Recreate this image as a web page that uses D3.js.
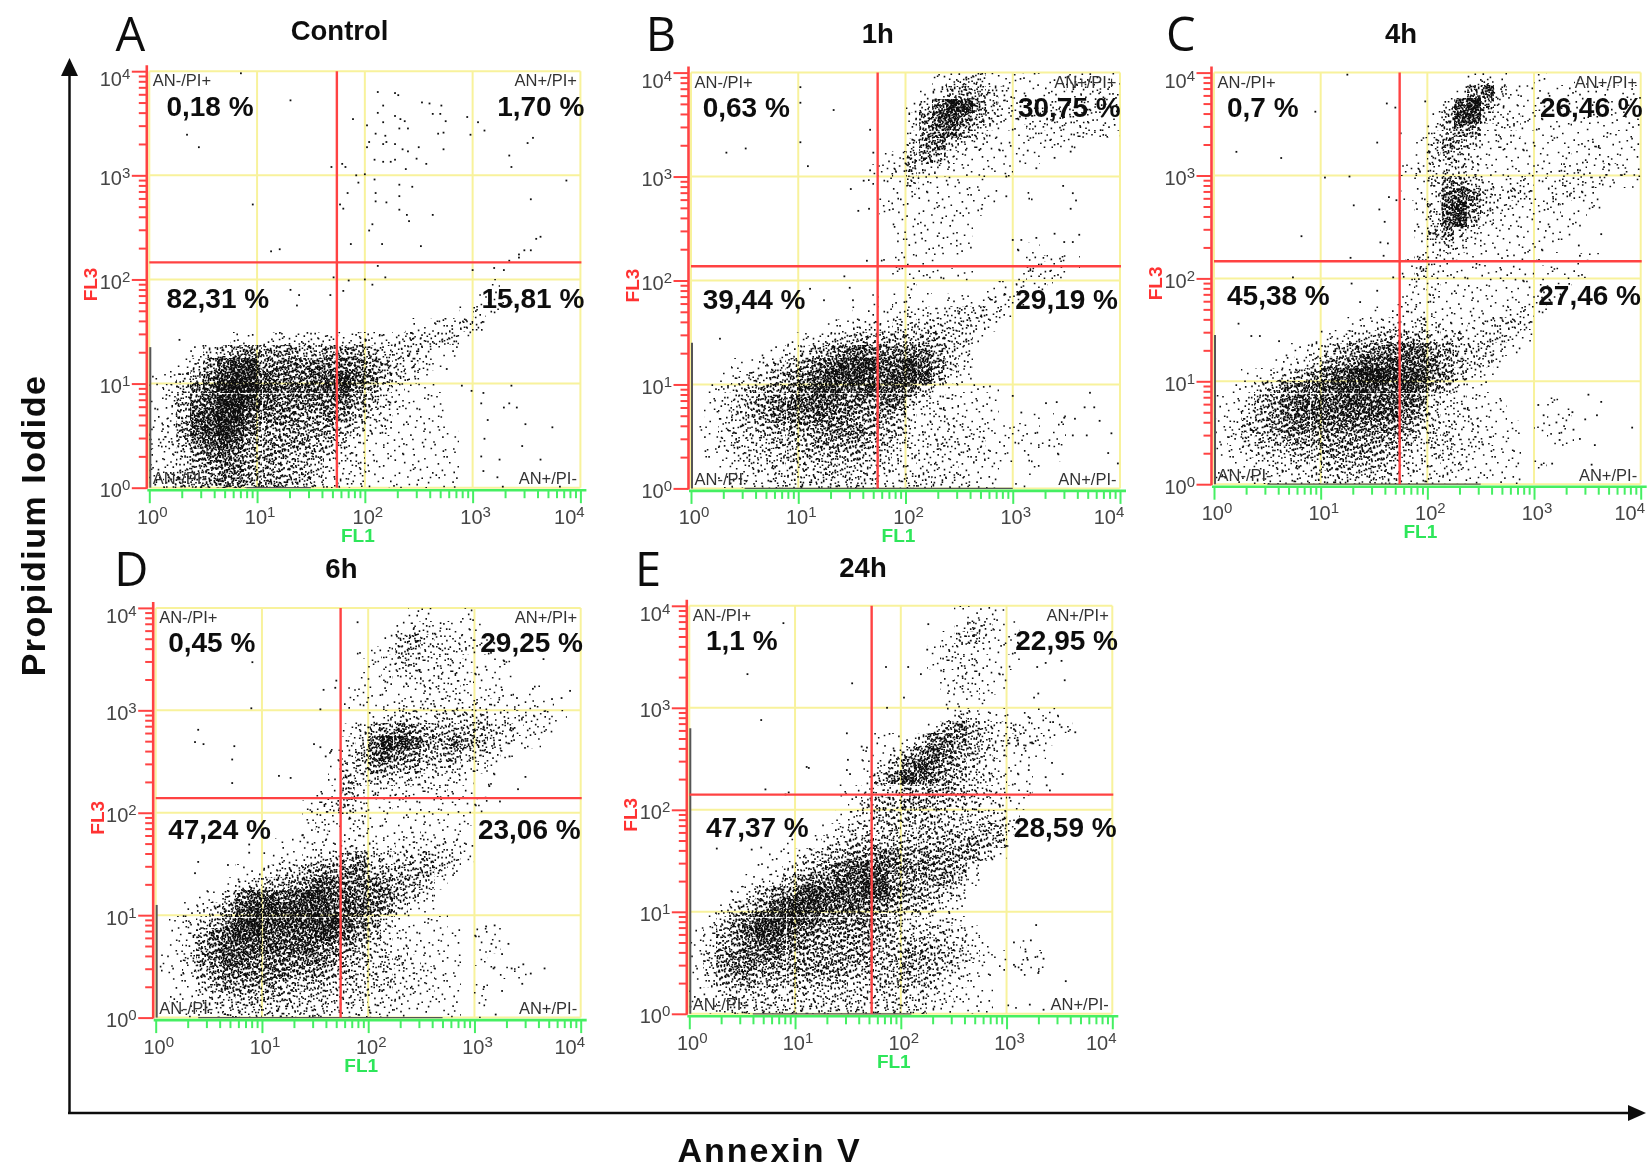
<!DOCTYPE html>
<html>
<head>
<meta charset="utf-8">
<script src="https://cdn.jsdelivr.net/npm/d3@7"></script>
<style>
  body { margin: 0; background: #fff; }
  text { font-family: "Liberation Sans", Arial, sans-serif; }
</style>
</head>
<body>
<div id="viz"></div>
<script>
const width = 1648;
const height = 1168;

const panelLetters = ['A', 'B', 'C', 'D', 'E'];
const panelTitles = ['Control', '1h', '4h', '6h', '24h'];
const quadrantLabels = ['AN-/PI+', 'AN+/PI+', 'AN-/PI-', 'AN+/PI-'];

// percentages, order: upper left, upper right, lower left, lower right
const percentsA = ['0,18 %', '1,70 %', '82,31 %', '15,81 %'];
const percentsB = ['0,63 %', '30,75 %', '39,44 %', '29,19 %'];
const percentsC = ['0,7 %', '26,46 %', '45,38 %', '27,46 %'];
const percentsD = ['0,45 %', '29,25 %', '47,24 %', '23,06 %'];
const percentsE = ['1,1 %', '22,95 %', '47,37 %', '28,59 %'];

// quadrant gates, FL1 / FL3 channel values
const gateX = [55, 55, 55, 55, 53];
const gateY = [146, 137, 147, 139, 141];

const majorTicks = [1, 10, 100, 1000, 10000];

// The dense clouds are too many events to read one by one, so they are kept as
// density: one row per 1/8 decade of FL3 (last row is the
// bottom of the plot), one digit per 1/8 decade of FL1, spaces between decades.
// Digit 0 = empty, 9 = solid black. Drawn as a stipple fill, not as single events.
const densityA = [
  '00000000 00000000 00000000 01',
  '00000000 00000000 00000000 111',
  '00000000 00000000 00000001 21',
  '00000000 00000000 00011223 2',
  '00000011 12222222 22233331',
  '00013456 55544555 43332110',
  '00135788 66666666 54332100',
  '11346899 76667787 64321000',
  '12467999 87777886 53211100',
  '12467998 76666665 43211100',
  '12478997 66655654 32111100',
  '22578986 55555543 22111110',
  '22467875 55554432 11111110',
  '12356765 55444322 11111110',
  '12345665 54443222 11111110',
  '23445665 55443222 11111110'
];
const densityB = [
  '00000000 00000000 00123311 11112211',
  '00000000 00000000 01245432 11112222',
  '00000000 00000000 13698532 22222222',
  '00000000 00000000 25786432 22222221',
  '00000000 00000000 25775321 12222221',
  '00000000 00000000 35632211 11211000',
  '00000000 00000012 45421111 11000000',
  '00000000 00000112 42211111 00000000',
  '00000000 00000111 31111100 00000000',
  '00000000 00000011 11111110 01000000',
  '00000000 00000011 11111100 00000000',
  '00000000 00000001 11111000 00000000',
  '00000000 00000001 11111000 00000000',
  '00000000 00000001 11111000 11000000',
  '00000000 00000011 11100000 01221000',
  '00000000 00000001 11111000 12210000',
  '00000000 00000000 10000011 21100000',
  '00000000 00000101 11011122 10000000',
  '00000000 00001112 22223322 00000000',
  '00000000 00112223 33333210 00000000',
  '00000001 12334444 44433100 00000000',
  '00000112 34567666 66432000 00000000',
  '00011234 56788877 87532000 00000000',
  '00123345 67888778 87421000 00000000',
  '01234556 78877877 64211110 00000000',
  '01234567 77766566 32221110 00000000',
  '01234566 67665554 22221110 01010000',
  '11233445 55666544 22222211 11010000',
  '01233344 45555443 22322211 11110000',
  '01123334 44444332 22222211 11010000',
  '00122233 33433322 22221110 01000000',
  '00122233 33333322 33222110 10000000'
];
const densityC = [
  '00000000 00000000 00012100 10010000',
  '00000000 00000000 00157311 11111111',
  '00000000 00000000 02795211 21111111',
  '00000000 00000000 14883221 11111111',
  '00000000 00000000 24651221 11111111',
  '00000000 00000001 35431211 11112111',
  '00000000 00000001 34321111 11111111',
  '00000000 00000012 23321111 11221221',
  '00000000 00000001 35532122 12222111',
  '00000000 00000011 26763232 12221000',
  '00000000 00000001 37853221 12111000',
  '00000000 00000001 37842111 11110000',
  '00000000 00000001 46321111 11100000',
  '00000000 00000001 23211111 11000000',
  '00000000 00000012 22111111 10011000',
  '00000000 00000013 21111111 01110000',
  '00000000 00000012 11111111 11100000',
  '00000000 00000011 21111111 22000000',
  '00000000 00001122 11111122 10000000',
  '00000000 00112223 21122332 00000000',
  '00000001 12334444 33323321 00000000',
  '00000112 34556677 55333210 00000000',
  '00001123 55677777 65433100 00000000',
  '00112345 67899888 65321000 00000000',
  '01134667 78888787 54211000 00000000',
  '11245677 77877776 32211100 01000000',
  '11345677 77777765 32221100 01100000',
  '12445666 66666654 33221110 11100000',
  '12344555 55555543 33222110 01100000',
  '11233344 55554432 33221110 00000000',
  '01122233 44444322 22211110 10000000',
  '11122223 33333322 22111110 00000000'
];
const densityD = [
  '00000000 00000000 00011001 00000000',
  '00000000 00000000 00122211 10000000',
  '00000000 00000000 01343222 11000000',
  '00000000 00000001 12442322 11000000',
  '00000000 00000000 12332221 11100000',
  '00000000 00000001 12222222 11100000',
  '00000000 00000011 11112221 11101000',
  '00000000 00000011 11222222 22111100',
  '00000000 00000001 12332333 32222210',
  '00000000 00000012 45654444 43322100',
  '00000000 00000023 69875465 43211000',
  '00000000 00000124 67654443 32100000',
  '00000000 00000133 55443332 21000000',
  '00000000 00000143 33232221 01000000',
  '00000000 00001142 22212211 10000000',
  '00000000 00012332 11111111 10000000',
  '00000000 00012122 11111111 00000000',
  '00000000 00012112 11121110 00000000',
  '00000000 01112122 21222221 00000000',
  '00000000 11123345 33334331 00000000',
  '00000011 23345566 44444320 00000000',
  '00000123 44567766 65543100 00000000',
  '00011367 76788776 66432000 00000000',
  '00123578 88888777 65311000 00000000',
  '01234689 88888976 53111100 00000000',
  '01246788 77778765 42211110 11000000',
  '01256777 77776654 32211110 11000000',
  '11356776 66666544 33321110 10000000',
  '11245666 66555443 33222110 01110000',
  '01134555 54444333 33222110 10000000',
  '01123344 44333333 22211110 10000000',
  '01122333 33333222 22111110 10000000'
];
const densityE = [
  '00000000 00000000 00001111 00000000',
  '00000000 00000000 00001331 10000000',
  '00000000 00000000 00013421 10000000',
  '00000000 00000000 00122111 10000000',
  '00000000 00000000 00122211 10000000',
  '00000000 00000000 00012211 00000000',
  '00000000 00000000 00012211 00000000',
  '00000000 00000000 00011110 00000000',
  '00000000 00000000 00013211 11110000',
  '00000000 00000000 00146432 21111000',
  '00000000 00000011 13665432 32210000',
  '00000000 00000112 46765432 11100000',
  '00000000 00000124 68654321 11000000',
  '00000000 00000146 87654332 11000000',
  '00000000 00011233 54554332 11000000',
  '00000000 00001344 55443322 11000000',
  '00000000 00012344 44433333 10000000',
  '00000000 00123334 34443344 20000000',
  '00000001 01234444 44444544 10000000',
  '00000011 23445566 55555531 00000000',
  '00000112 34567776 66554200 00000000',
  '00001124 56677885 55554100 00000000',
  '00012456 78777886 55432000 00000000',
  '00134578 88777665 44321000 00000000',
  '01356889 87666654 33221000 00000000',
  '12457887 66555554 33332100 00000000',
  '12456776 65555544 44433210 01000000',
  '13566665 55555544 55443211 01100000',
  '13566555 55554444 54432111 11100000',
  '12445444 44443344 44322100 00000000',
  '11233333 33333333 33221110 00000000',
  '11233333 33333233 33211110 10000000'
];

// isolated events read one at a time, as [log10 FL1, log10 FL3]
const eventsA = [
  [.85,3.98],[1.31,3.72],[.35,3.39],[.46,3.27],[.96,2.72],[1.13,2.27],[1.21,2.29],[1.69,3.08],[1.79,3.11],[1.82,3.08],
  [1.89,3.54],[2.02,3.48],[2.12,3.8],[2.28,3.79],[2.31,3.77],[2.17,3.67],[2.12,3.6],[2.17,3.51],[2.28,3.57],[2.33,3.54],
  [2.37,3.52],[2.32,3.45],[2.4,3.45],[2.1,3.4],[2.04,3.32],[2.02,3.27],[2.19,3.38],[2.2,3.32],[2.17,3.3],[2.28,3.3],
  [2.35,3.25],[2.4,3.23],[2.5,3.27],[2.17,3.13],[2.24,3.13],[2.28,3.15],[2.09,3.15],[2.38,3.06],[2.57,3.11],[2.48,3.16],
  [2.53,3.7],[2.6,3.69],[2.71,3.67],[2.63,3.59],[2.7,3.59],[2.75,3.52],[2.68,3.4],[2.73,3.41],[2.73,3.25],[2.95,3.56],
  [3.05,3.51],[3.11,3.43],[2.98,3.39],[3.56,3.36],[3.51,3.31],[3.34,3.19],[3.36,3.08],[3.87,2.95],[3.54,2.77],[2,3.01],
  [2.09,2.96],[1.92,3],[1.94,2.93],[1.84,2.83],[1.77,2.72],[1.8,2.68],[2.1,2.83],[2.1,2.75],[2.2,2.74],[2.32,2.91],
  [2.32,2.8],[2.32,2.67],[2.39,2.62],[2.41,2.56],[2.44,2.89],[2.63,2.62],[2.07,2.53],[2.04,2.47],[1.87,2.34],[2.16,2.34],
  [2.52,2.32],[3.63,2.41],[3.59,2.39],[3.54,2.28],[3.48,2.28],[3.43,2.24],[3.34,2.18],[3.43,2.21],[2.12,2.13],[2.19,2.02],
  [2,2],[1.85,1.99],[1.71,2.02],[1.8,1.89],[2.07,1.95],[3,2.09],[3.2,2.11],[3.29,2.09],[1.31,1.9],[1.39,1.85],
  [1.37,1.75],[1.68,1.85],[.28,1.42],[2.76,1.14],[2.9,.98],[2.99,.93],[3.36,.98],[3.1,.91],[3.08,.81],[3.34,.81],
  [3.41,.77],[3.29,.77],[3.49,.61],[3.74,.58],[3.14,.65],[3.11,.47],[3.46,.4],[3.63,.27],[3.25,.27],[3.08,.3],
  [3.1,.16],[3.23,.1],[3.28,.01],[3.81,.01]
];
const eventsB = [
  [.33,3.23],[.51,3.27],[1.02,3.86],[1.02,3.71],[1.33,3.64],[1.02,3.33],[1.09,3.1],[1.49,2.88],[1.56,2.67],[1.66,2.69],
  [1.61,2.96],[1.67,3.45],[1.7,3.23],[1.67,3.06],[1.64,2.19],[1.43,2.04],[1.48,1.93],[1.51,1.81],[1.24,1.81],[1.11,1.92],
  [.27,1.44],[3.47,2.91],[3.56,2.84],[3.59,2.77],[3.54,2.69],[3.54,3.24],[3.39,3.18],[2.94,3],[2.94,2.81],[2.71,2.69],
  [3.22,3.08],[3.14,3.25],[3.39,2.45],[3.62,2.44],[3.56,2.37],[3.48,2.37],[3.22,2.41],[3.08,2.39],[3,2.39],[3.72,.92],
  [3.76,.78],[3.81,.65],[3.92,.53],[3.67,.78],[3.31,.82],[3.41,.83],[3.48,.68],[3.58,.67],[3.56,.51],[3.69,.51],
  [3.34,.41],[3.89,.34],[3.98,.24],[3,.89],[3.08,.73]
];
const eventsC = [
  [1.25,3.98],[.95,3.62],[1.62,3.7],[1.7,3.66],[.21,3.23],[.63,3.17],[1.53,3.32],[1.75,3.41],[1.04,2.98],[1.27,2.99],
  [1.31,2.71],[1.55,2.67],[1.64,2.79],[1.71,2.76],[1.6,2.55],[1.56,2.35],[1.63,2.34],[1.59,2.22],[1.68,2.01],[.82,2.41],
  [1.28,2.2],[.74,2.01],[1.29,1.95],[.23,1.56],[.35,1.44],[.43,1.44],[.61,1.39],[1.53,1.88],[1.37,1.77],[1.98,3.72],
  [3.63,2.43],[3.42,2.32],[3.43,2.22],[3.37,2.17],[3.51,.87],[3.63,.8],[3.92,.55],[3.59,.67],[3.48,.63],[3.36,.7],
  [3.04,.77],[3.09,.67],[3.21,.6],[3.37,.53],[3.43,.44],[3.57,.38],[3.17,.2],[3.07,.19],[3.54,.19],[3.24,.43]
];
const eventsD = [
  [.91,3.47],[.9,3.02],[.4,2.81],[.37,2.69],[.45,2.67],[.74,2.65],[.72,2.52],[.72,2.29],[1.16,2.36],[1.27,2.34],
  [1.58,3.2],[1.7,3.29],[1.69,3.22],[1.55,3.01],[1.9,3.86],[1.49,2.67],[1.55,2.64],[1.6,2.55],[1.65,2.6],[3.9,3.19],
  [3.82,3.12],[3.73,3.11],[3.55,3.21],[3.65,3.5],[3.28,3.48],[3.4,3.12],[3.26,3.2],[3.48,2.35],[3.41,2.23],[3.14,2.26],
  [3.24,2.11],[3.33,2.55],[.4,1.52],[.37,1.41],[.68,1.49],[.88,1.61],[.88,1.69],[1.38,1.78],[1.43,1.71],[1.47,2.01],
  [3.19,.9],[3.11,.89],[3.32,.72],[3.16,.72],[3.26,.62],[3.35,.48],[3.46,.52],[3.53,.43],[3.66,.48],[3.45,.33],
  [3.26,.26],[3.18,.48],[3.09,.3],[3.2,.03]
];
const eventsE = [
  [.89,3.83],[.55,3.33],[.68,2.88],[1.54,3.24],[1.86,3.4],[2.07,3.4],[2.19,3.33],[2.03,3.1],[1.87,3],[1.49,2.75],
  [1.63,2.62],[1.68,2.61],[1.11,2.42],[1.13,2.41],[1.5,2.49],[1.52,2.35],[1.49,2.39],[.72,2.2],[.91,2.15],[.94,2.17],
  [.26,1.62],[.59,1.61],[.68,1.63],[2.25,3.57],[2.26,3.82],[3.29,3.4],[3.37,3.44],[3.52,3.46],[3.55,3.27],[3.26,3.1],
  [3.3,3.14],[3.44,2.86],[3.52,2.81],[3.65,2.76],[3.4,2.78],[3.22,2.9],[3.18,2.78],[3.24,2.66],[3.1,2.68],[3.18,2.63],
  [3.07,2.79],[3.43,2.46],[3.53,2.35],[3.37,2.32],[3.38,2.24],[3.41,2.19],[3.21,2.39],[3.28,.87],[3.23,.72],[3.18,.61],
  [3.2,.53],[3.35,.54],[3.07,.7],[3.07,.48],[3.14,.43],[3.3,.4],[3.56,.32],[3.22,.09],[3.35,.04]
];

// events piled on the axes, as log10 extents along FL3 and along FL1
const pileFL3 = [[0, 1.35], [0, 1.4], [0, 1.45], [0, 1.1], [0, 2.8]];
const pileFL1 = [[0.9, 1.5], [0.5, 3], [0.5, 2.5], [0.4, 2.7], [0.6, 2.1]];

const densities = [densityA, densityB, densityC, densityD, densityE];
const events = [eventsA, eventsB, eventsC, eventsD, eventsE];
const percents = [percentsA, percentsB, percentsC, percentsD, percentsE];

// layout: pixel box of each plot, left/right/top/bottom at 10^0 and 10^4
const plotLeft = [149.3, 691, 1214, 155.7, 689.3];
const plotRight = [580.4, 1120, 1640.7, 580.7, 1112.3];
const plotTop = [71.2, 72.6, 72.6, 607.9, 605.8];
const plotBottom = [487.7, 488.4, 484.2, 1017.6, 1013.8];
const letterPos = [[130.4, 51], [661, 51], [1180.7, 51], [131.4, 586], [648, 586]];
const titlePos = [[339.6, 40.4], [877.7, 42.8], [1401, 42.8], [341.4, 577.5], [863, 577]];
const percentLeft = [166.4, 702.7, 1227, 168.2, 706];
const percentRight = [[584.3, 584.3], [1120.7, 1118], [1642.7, 1641], [583, 580.7], [1118, 1116.7]];
const percentBase = [[115.8, 308], [116.8, 308.8], [116.8, 305.3], [651.6, 839.3], [649.9, 836.5]];

const red = '#ff4343';
const green = '#45ef62';
const yellow = '#f8f29c';
const labelGrey = '#444';

const svg = d3.select('#viz')
  .append('svg')
    .attr('width', width)
    .attr('height', height)
    .style('display', 'block');

const defs = svg.append('defs');

defs.append('filter')
    .attr('id', 'soft')
    .attr('x', 0).attr('y', 0)
    .attr('width', 1).attr('height', 1)
    .attr('filterUnits', 'objectBoundingBox')
  .append('feGaussianBlur')
    .attr('stdDeviation', 0.45);

// Stipple fills for the density digits. Each level holds all the dots of the one
// below it, so neighbouring cells blend. This is a fill texture, not chart data.
const tile = 131;
const cellArea = 176;
const dotsPerCell = [0, 3, 7, 13, 22, 34, 50, 68, 90, 120];

const halton = (i, base) => {
  let f = 1, r = 0;
  while (i > 0) {
    f /= base;
    r += f * (i % base);
    i = Math.floor(i / base);
  }
  return r;
};

const stippleD = n => {
  let d = '';
  for (let i = 1; i <= n; i++) {
    const px = ((halton(i, 2) * tile + halton(i, 5) * 5) % tile).toFixed(1);
    const py = ((halton(i, 3) * tile + halton(i, 7) * 5) % tile).toFixed(1);
    d += `M${px} ${py}h1.6v1.6h-1.6z`;
  }
  return d;
};

dotsPerCell.forEach((n, level) => {
  if (level === 0) return;
  defs.append('pattern')
      .attr('id', `stipple${level}`)
      .attr('patternUnits', 'userSpaceOnUse')
      .attr('width', tile)
      .attr('height', tile)
    .append('path')
      .attr('d', stippleD(Math.round(n * tile * tile / cellArea)))
      .attr('fill', '#111');
});

const minorTicks = [];
[1, 10, 100, 1000].forEach(decade => {
  for (let k = 2; k <= 9; k++) minorTicks.push(decade * k);
});

const root = svg.append('g').attr('filter', 'url(#soft)');
root.append('rect').attr('width', width).attr('height', height).attr('fill', '#fff');

const createPanel = (i) => {
  const x = d3.scaleLog().domain([1, 10000]).range([plotLeft[i], plotRight[i]]);
  const y = d3.scaleLog().domain([1, 10000]).range([plotBottom[i], plotTop[i]]);
  const g = root.append('g');

  // yellow decade grid
  g.append('g').selectAll('line').data(majorTicks).join('line')
      .attr('x1', d => x(d)).attr('x2', d => x(d))
      .attr('y1', y(10000)).attr('y2', y(1));
  g.append('g').selectAll('line').data(majorTicks).join('line')
      .attr('x1', x(1)).attr('x2', x(10000))
      .attr('y1', d => y(d)).attr('y2', d => y(d));
  g.selectAll('line').attr('stroke', yellow).attr('stroke-width', 2);

  // density clouds
  const rows = densities[i].map(r => r.replace(/ /g, ''));
  const clouds = g.append('g');
  d3.range(1, 10).forEach(level => {
    let d = '';
    rows.forEach((row, r) => {
      const fromBottom = rows.length - 1 - r;
      const y0 = y(10 ** ((fromBottom + 1) / 8));
      const y1 = y(10 ** (fromBottom / 8));
      for (let c = 0; c < row.length; c++) {
        if (+row[c] !== level) continue;
        d += `M${x(10 ** (c / 8))} ${y0}H${x(10 ** ((c + 1) / 8))}V${y1}H${x(10 ** (c / 8))}Z`;
      }
    });
    clouds.append('path')
        .attr('d', d)
        .attr('fill', `url(#stipple${level})`)
        .attr('shape-rendering', 'crispEdges');
  });

  // piled up events on the axes
  clouds.append('line')
      .attr('x1', x(1) + 1).attr('x2', x(1) + 1)
      .attr('y1', y(10 ** pileFL3[i][1])).attr('y2', y(1))
      .attr('stroke', '#555').attr('stroke-width', 2);
  clouds.append('line')
      .attr('x1', x(10 ** pileFL1[i][0])).attr('x2', x(10 ** pileFL1[i][1]))
      .attr('y1', y(1)).attr('y2', y(1))
      .attr('stroke', '#555').attr('stroke-width', 1.2);

  // isolated events
  clouds.append('g').selectAll('rect').data(events[i]).join('rect')
      .attr('x', d => x(10 ** d[0]) - 0.9)
      .attr('y', d => y(10 ** d[1]) - 0.9)
      .attr('width', 1.8)
      .attr('height', 1.8)
      .attr('fill', '#111');

  // quadrant gates
  g.append('line')
      .attr('x1', x(gateX[i])).attr('x2', x(gateX[i]))
      .attr('y1', y(10000)).attr('y2', y(1))
      .attr('stroke', red).attr('stroke-width', 2.4);
  g.append('line')
      .attr('x1', x(1)).attr('x2', x(10000) + 1)
      .attr('y1', y(gateY[i])).attr('y2', y(gateY[i]))
      .attr('stroke', red).attr('stroke-width', 2.4);

  // FL3 axis
  const yAxisPos = x(1) - 2.5;
  const yAxis = g.append('g').attr('transform', `translate(${yAxisPos}, 0)`);
  yAxis.append('g').call(d3.axisLeft(y).tickValues(minorTicks).tickSize(8).tickFormat(''));
  yAxis.append('g').call(d3.axisLeft(y).tickValues(majorTicks).tickSize(15).tickFormat(''));
  yAxis.selectAll('line').attr('stroke', red).attr('stroke-width', 2);
  yAxis.selectAll('.domain').remove();
  yAxis.append('line')
      .attr('y1', y(10000) - 6).attr('y2', y(1) + 1)
      .attr('stroke', red).attr('stroke-width', 2.6);

  // FL1 axis
  const xAxisPos = y(1) + 2.5;
  const xAxis = g.append('g').attr('transform', `translate(0, ${xAxisPos})`);
  xAxis.append('g').call(d3.axisBottom(x).tickValues(minorTicks).tickSize(8).tickFormat(''));
  xAxis.append('g').call(d3.axisBottom(x).tickValues(majorTicks).tickSize(13).tickFormat(''));
  xAxis.selectAll('line').attr('stroke', green).attr('stroke-width', 2);
  xAxis.selectAll('.domain').remove();
  xAxis.append('line')
      .attr('x1', x(1) - 2).attr('x2', x(10000) + 6)
      .attr('stroke', green).attr('stroke-width', 2.6);

  // tick labels with raised exponents
  const tickLabel = (sel, exponent) => {
    sel.attr('fill', labelGrey).attr('font-size', 20);
    sel.append('tspan').text('10');
    sel.append('tspan').attr('dy', -7).attr('font-size', 15).text(exponent);
  };
  majorTicks.forEach((t, k) => {
    g.append('text')
        .attr('x', x(1) - 19)
        .attr('y', y(t) + (k === 4 ? 15 : 9.5))
        .attr('text-anchor', 'end')
        .call(tickLabel, k);
    g.append('text')
        .attr('x', x(t) + (k === 4 ? -11 : 3))
        .attr('y', y(1) + 36)
        .attr('text-anchor', 'middle')
        .call(tickLabel, k);
  });

  // channel names
  g.append('text')
      .attr('transform', `translate(${x(1) - 52}, ${y(100) + 5}) rotate(-90)`)
      .attr('text-anchor', 'middle')
      .attr('font-size', 19)
      .attr('font-weight', 'bold')
      .attr('fill', '#f33')
      .text('FL3');
  g.append('text')
      .attr('x', x(100) - 7)
      .attr('y', y(1) + 54)
      .attr('text-anchor', 'middle')
      .attr('font-size', 19)
      .attr('font-weight', 'bold')
      .attr('fill', '#2ee65a')
      .text('FL1');

  // quadrant names
  quadrantLabels.forEach((label, k) => {
    g.append('text')
        .attr('x', k % 2 === 0 ? x(1) + 3.5 : x(10000) - 3.5)
        .attr('y', k < 2 ? y(10000) + 15 : y(1) - 3.5)
        .attr('text-anchor', k % 2 === 0 ? 'start' : 'end')
        .attr('font-size', 16.5)
        .attr('fill', '#333')
        .text(label);
  });

  // percentages
  percents[i].forEach((p, k) => {
    g.append('text')
        .attr('x', k % 2 === 0 ? percentLeft[i] : percentRight[i][k === 1 ? 0 : 1])
        .attr('y', percentBase[i][k < 2 ? 0 : 1])
        .attr('text-anchor', k % 2 === 0 ? 'start' : 'end')
        .attr('font-size', 28)
        .attr('font-weight', 'bold')
        .attr('fill', '#111')
        .text(p);
  });

  // panel letter and title
  g.append('text')
      .attr('x', letterPos[i][0])
      .attr('y', letterPos[i][1])
      .attr('text-anchor', 'middle')
      .attr('font-size', 47)
      .attr('fill', '#111')
      .style('font-family', '"Open Sans", sans-serif')
      .text(panelLetters[i]);
  g.append('text')
      .attr('x', titlePos[i][0])
      .attr('y', titlePos[i][1])
      .attr('text-anchor', 'middle')
      .attr('font-size', 27.5)
      .attr('font-weight', 'bold')
      .attr('fill', '#111')
      .text(panelTitles[i]);
};

panelLetters.forEach((_, i) => createPanel(i));

// outer axes with arrow heads
root.append('line')
    .attr('x1', 69.5).attr('x2', 69.5)
    .attr('y1', 70).attr('y2', 1113)
    .attr('stroke', '#111').attr('stroke-width', 2.5);
root.append('line')
    .attr('x1', 68).attr('x2', 1632)
    .attr('y1', 1113).attr('y2', 1113)
    .attr('stroke', '#111').attr('stroke-width', 2.5);
root.append('path').attr('d', 'M69.5 58L61 76H78Z').attr('fill', '#111');
root.append('path').attr('d', 'M1646 1113L1628 1105V1121Z').attr('fill', '#111');

root.append('text')
    .attr('transform', 'translate(45, 525.5) rotate(-90)')
    .attr('text-anchor', 'middle')
    .attr('font-size', 34)
    .attr('font-weight', 'bold')
    .attr('letter-spacing', 1.5)
    .attr('fill', '#111')
    .text('Propidium Iodide');
root.append('text')
    .attr('x', 769.5)
    .attr('y', 1162)
    .attr('text-anchor', 'middle')
    .attr('font-size', 34)
    .attr('font-weight', 'bold')
    .attr('letter-spacing', 2)
    .attr('fill', '#111')
    .text('Annexin V');
</script>
</body>
</html>
